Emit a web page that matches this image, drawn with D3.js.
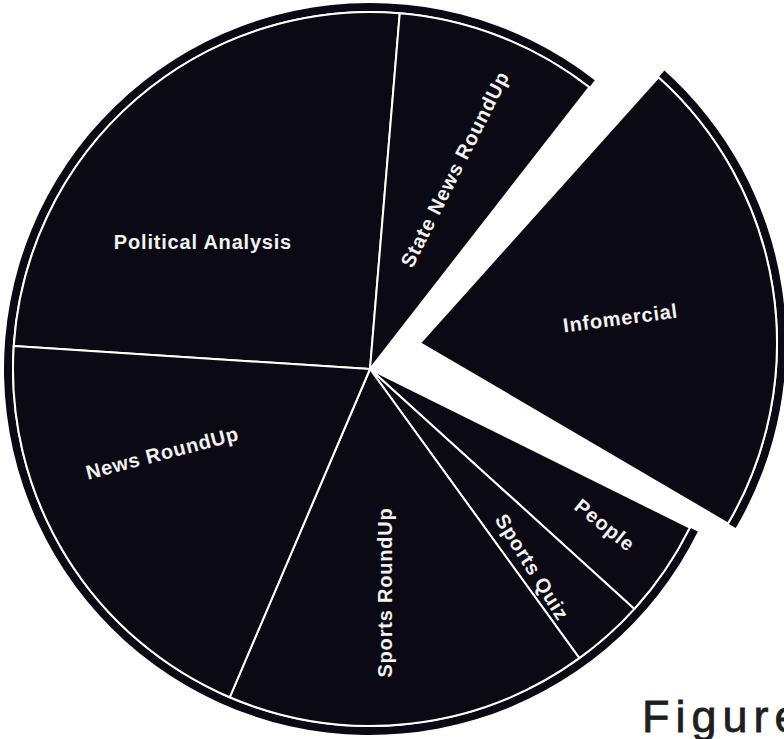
<!DOCTYPE html>
<html>
<head>
<meta charset="utf-8">
<script src="https://cdn.jsdelivr.net/npm/d3@7"></script>
<style>
  body { margin: 0; background: #fff; }
  svg { display: block; }
  .lbl { fill: #f2f2f2; font-family: "Liberation Sans", Arial, sans-serif; font-weight: bold; font-size: 20px; letter-spacing: 0.8px; }
</style>
</head>
<body>
<svg id="chart"></svg>
<script>
const width = 784;
const height = 739;

// programme share of air time (percent), clockwise from the left
const programmes = ["Political Analysis", "State News RoundUp", "Infomercial", "People", "Sports Quiz", "Sports RoundUp", "News RoundUp"];
const shares = [25.3, 9.2, 21.8, 4.4, 3.3, 16.4, 19.6];
const pulledOut = "Infomercial";

const cx = 370, cy = 369;
const rInner = 357;   // white line radius
const rOuter = 366;   // black rim
const fill = "#0b0a14";
const deg = Math.PI / 180;

// label placement: [radius, angle deg, rotation deg]
const labelPlace = {
  "Political Analysis": [210, 307.3, 0],
  "State News RoundUp": [217, 23, -63.2],
  "Infomercial": [202, 78.9, -11.5],
  "People": [282, 123.6, 38.7],
  "Sports Quiz": [256, 140.7, 58],
  "Sports RoundUp": [224, 176.2, -90],
  "News RoundUp": [224, 248, -14.7]
};

const svg = d3.select("#chart")
  .attr("width", width)
  .attr("height", height);

const start = -86.3 * deg;
const pie = d3.pie()
  .sort(null)
  .value(d => d.share)
  .startAngle(start)
  .endAngle(start + 2 * Math.PI);

const data = programmes.map((p, i) => ({ name: p, share: shares[i] }));
const arcs = pie(data);

const slice = d3.arc().innerRadius(0).outerRadius(rInner);
const rim = d3.arc().innerRadius(rInner + 1).outerRadius(rOuter);

const main = svg.append("g").attr("transform", `translate(${cx},${cy})`);
const pulled = svg.append("g").attr("transform", `translate(${cx + 50},${cy - 26}) rotate(4)`);

// continuous rim round the main pie
const rest = arcs.filter(a => a.data.name !== pulledOut);
const gapIdx = arcs.findIndex(a => a.data.name === pulledOut);
const rimStart = arcs[(gapIdx + 1) % arcs.length].startAngle;
const rimEnd = arcs[(gapIdx - 1 + arcs.length) % arcs.length].endAngle + 2 * Math.PI;
main.append("path")
  .attr("d", rim({ startAngle: rimStart, endAngle: rimEnd }))
  .attr("fill", fill);

const out = arcs[gapIdx];
pulled.append("path")
  .attr("d", rim(out))
  .attr("fill", fill);

function drawSlice(g, a) {
  g.append("path")
    .attr("d", slice(a))
    .attr("fill", fill)
    .attr("stroke", "#fff")
    .attr("stroke-width", 2)
    .attr("stroke-linejoin", "round");
}
rest.forEach(a => drawSlice(main, a));
drawSlice(pulled, out);

function drawLabel(g, name) {
  const [r, ang, rot] = labelPlace[name];
  const x = r * Math.sin(ang * deg), y = -r * Math.cos(ang * deg);
  g.append("text")
    .attr("class", "lbl")
    .attr("text-anchor", "middle")
    .attr("dominant-baseline", "central")
    .attr("transform", `translate(${x},${y}) rotate(${rot})`)
    .text(name);
}
rest.forEach(a => drawLabel(main, a.data.name));
drawLabel(pulled, pulledOut);

// caption, cut by the right edge as in the scan
svg.append("text")
  .attr("x", 642)
  .attr("y", 732)
  .attr("fill", "#1f1f1f")
  .attr("stroke", "#1f1f1f")
  .attr("stroke-width", 0.8)
  .style("font-family", "Liberation Sans, Arial, sans-serif")
  .style("font-size", "45px")
  .style("letter-spacing", "6px")
  .text("Figure");
</script>
</body>
</html>
